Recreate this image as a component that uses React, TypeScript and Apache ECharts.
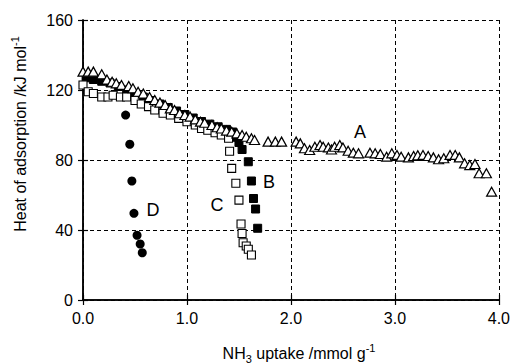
import React, { useEffect, useRef } from "react";
import * as echarts from "echarts";

// Series A (open triangles)
const aX = [0.0, 0.05, 0.1, 0.18, 0.23, 0.28, 0.32, 0.37, 0.44, 0.48, 0.53, 0.58, 0.64, 0.69, 0.74, 0.79, 0.84, 0.88, 0.93, 0.98, 1.03, 1.08, 1.13, 1.17, 1.24, 1.29, 1.33, 1.38, 1.43, 1.48, 1.53, 1.57, 1.62, 1.65, 1.78, 1.85, 1.91, 2.05, 2.09, 2.13, 2.18, 2.23, 2.28, 2.31, 2.36, 2.39, 2.42, 2.47, 2.5, 2.55, 2.6, 2.65, 2.76, 2.81, 2.86, 2.92, 2.97, 3.02, 3.06, 3.13, 3.18, 3.22, 3.27, 3.32, 3.37, 3.42, 3.47, 3.53, 3.58, 3.62, 3.67, 3.72, 3.77, 3.81, 3.88, 3.93];
const aY = [130.5, 130.5, 130.5, 129, 126, 124.7, 123.8, 122.9, 122.3, 121, 119, 118, 116, 114.3, 112.8, 111.4, 109.5, 108.6, 106.7, 105.7, 104.8, 103.2, 101.9, 101.3, 100, 98.7, 98, 96.8, 96.2, 95.2, 94.3, 93.3, 92.4, 91.4, 90.5, 90.5, 90.5, 90.5, 89.5, 86.7, 85.7, 87.6, 88.6, 87.6, 87.2, 86, 87.6, 88.6, 87.2, 85.3, 84.2, 83.8, 84.2, 83.8, 83.4, 81.9, 83.8, 82.9, 81.9, 81.5, 82.3, 82.7, 82.9, 82.3, 81.5, 80.4, 81, 82.9, 82.9, 81.5, 78.1, 77.1, 77.7, 72.4, 72.4, 61.9];

// Series B (filled squares)
const bX = [0.03, 0.1, 0.18, 0.26, 0.34, 0.42, 0.5, 0.58, 0.66, 0.74, 0.82, 0.9, 0.98, 1.06, 1.14, 1.22, 1.3, 1.38, 1.44, 1.47, 1.5, 1.53, 1.59, 1.62, 1.64, 1.66, 1.68];
const bY = [127, 126, 125, 124, 122, 120, 118, 116, 114, 112, 110, 108, 106, 104, 102, 100.5, 99, 97.5, 96, 93, 90, 86, 79, 68, 58, 52, 41];

// Series C (open squares)
const cX = [0.0, 0.05, 0.1, 0.18, 0.24, 0.29, 0.36, 0.42, 0.5, 0.56, 0.63, 0.69, 0.77, 0.84, 0.92, 1.0, 1.08, 1.14, 1.2, 1.27, 1.33, 1.4, 1.41, 1.43, 1.47, 1.5, 1.52, 1.53, 1.54, 1.57, 1.59, 1.62];
const cY = [122.9, 119, 118, 116, 116, 117, 116, 116, 114, 112, 110.5, 108.6, 106.7, 105.7, 103.8, 101.9, 100, 98, 97, 95.6, 94.3, 92.4, 85, 75.2, 66.7, 57.1, 43.4, 38, 32.7, 30.9, 29, 25.7];

// Series D (filled circles)
const dX = [0.41, 0.45, 0.47, 0.49, 0.52, 0.55, 0.57];
const dY = [105.7, 89, 68, 49.5, 37, 32, 27];

const xTicks = [0, 1, 2, 3, 4];
const yTicks = [0, 40, 80, 120, 160];

const pairs = (xs: number[], ys: number[]) => xs.map((x, i) => [x, ys[i]]);

export default function App() {
  const ref = useRef<HTMLDivElement>(null);
  useEffect(() => {
    if (!ref.current) return;
    const chart = echarts.init(ref.current, null, { renderer: "svg" });
    const font = "'Liberation Sans', Arial, Helvetica, sans-serif";
    const axisCommon = {
      axisLine: { show: true, lineStyle: { color: "#000", width: 1.5 } },
      axisTick: { show: true, inside: true, length: 5, lineStyle: { color: "#000", width: 1.2 } },
    };
    chart.setOption({
      animation: false,
      backgroundColor: "#fff",
      grid: { left: 83, right: 14, top: 20, bottom: 64 },
      xAxis: [
        {
          type: "value",
          min: xTicks[0],
          max: xTicks[xTicks.length - 1],
          interval: 1,
          ...axisCommon,
          axisLabel: { color: "#000", fontSize: 16, fontFamily: font, margin: 10, formatter: (v: number) => v.toFixed(1) },
          splitLine: { show: true, lineStyle: { color: "#000", width: 1, type: [4, 3] } },
        },
        {
          type: "value",
          position: "top",
          min: 0,
          max: 4,
          interval: 1,
          ...axisCommon,
          axisLabel: { show: false },
          splitLine: { show: false },
        },
      ],
      yAxis: [
        {
          type: "value",
          min: yTicks[0],
          max: yTicks[yTicks.length - 1],
          interval: 40,
          ...axisCommon,
          axisLabel: { color: "#000", fontSize: 16, fontFamily: font, margin: 10 },
          splitLine: { show: true, lineStyle: { color: "#000", width: 1, type: [4, 3] } },
        },
        {
          type: "value",
          position: "right",
          min: 0,
          max: 160,
          interval: 40,
          ...axisCommon,
          axisLabel: { show: false },
          splitLine: { show: false },
        },
      ],
      series: [
        {
          type: "scatter",
          data: pairs(bX, bY),
          symbol: "rect",
          symbolSize: 8,
          itemStyle: { color: "#000", borderColor: "#000", borderWidth: 1, opacity: 1 },
          z: 2,
        },
        {
          type: "scatter",
          data: pairs(cX, cY),
          symbol: "rect",
          symbolSize: 8,
          itemStyle: { color: "#fff", borderColor: "#000", borderWidth: 1.1, opacity: 1 },
          z: 3,
        },
        {
          type: "scatter",
          data: pairs(aX, aY),
          symbol: "triangle",
          symbolSize: [10, 9],
          itemStyle: { color: "#fff", borderColor: "#000", borderWidth: 1.2, opacity: 1 },
          z: 4,
        },
        {
          type: "scatter",
          data: pairs(dX, dY),
          symbol: "circle",
          symbolSize: 9,
          itemStyle: { color: "#000", opacity: 1 },
          z: 5,
        },
      ],
      graphic: [
        { type: "text", x: 360, y: 132, style: { text: "A", font: `18px ${font}`, fill: "#000", align: "center", verticalAlign: "middle" } },
        { type: "text", x: 269, y: 182, style: { text: "B", font: `18px ${font}`, fill: "#000", align: "center", verticalAlign: "middle" } },
        { type: "text", x: 217, y: 205, style: { text: "C", font: `18px ${font}`, fill: "#000", align: "center", verticalAlign: "middle" } },
        { type: "text", x: 153, y: 210, style: { text: "D", font: `18px ${font}`, fill: "#000", align: "center", verticalAlign: "middle" } },
        {
          type: "text",
          x: 299,
          y: 353,
          style: {
            text: "{m|NH}{sub|3}{m| uptake /mmol g}{sup|-1}",
            align: "center",
            verticalAlign: "middle",
            rich: {
              m: { fontSize: 16, fontFamily: font, color: "#000", lineHeight: 22, verticalAlign: "middle" },
              sub: { fontSize: 11, fontFamily: font, color: "#000", lineHeight: 22, verticalAlign: "bottom" },
              sup: { fontSize: 11, fontFamily: font, color: "#000", lineHeight: 22, verticalAlign: "top" },
            },
          },
        },
        {
          type: "text",
          x: 20,
          y: 134,
          rotation: Math.PI / 2,
          style: {
            text: "{m|Heat of adsorption /kJ mol}{sup|-1}",
            align: "center",
            verticalAlign: "middle",
            rich: {
              m: { fontSize: 16, fontFamily: font, color: "#000", lineHeight: 22, verticalAlign: "middle" },
              sup: { fontSize: 11, fontFamily: font, color: "#000", lineHeight: 22, verticalAlign: "top" },
            },
          },
        },
      ],
    });
    return () => chart.dispose();
  }, []);
  return <div ref={ref} style={{ width: 513, height: 364, position: "absolute", left: 0, top: 0 }} />;
}
